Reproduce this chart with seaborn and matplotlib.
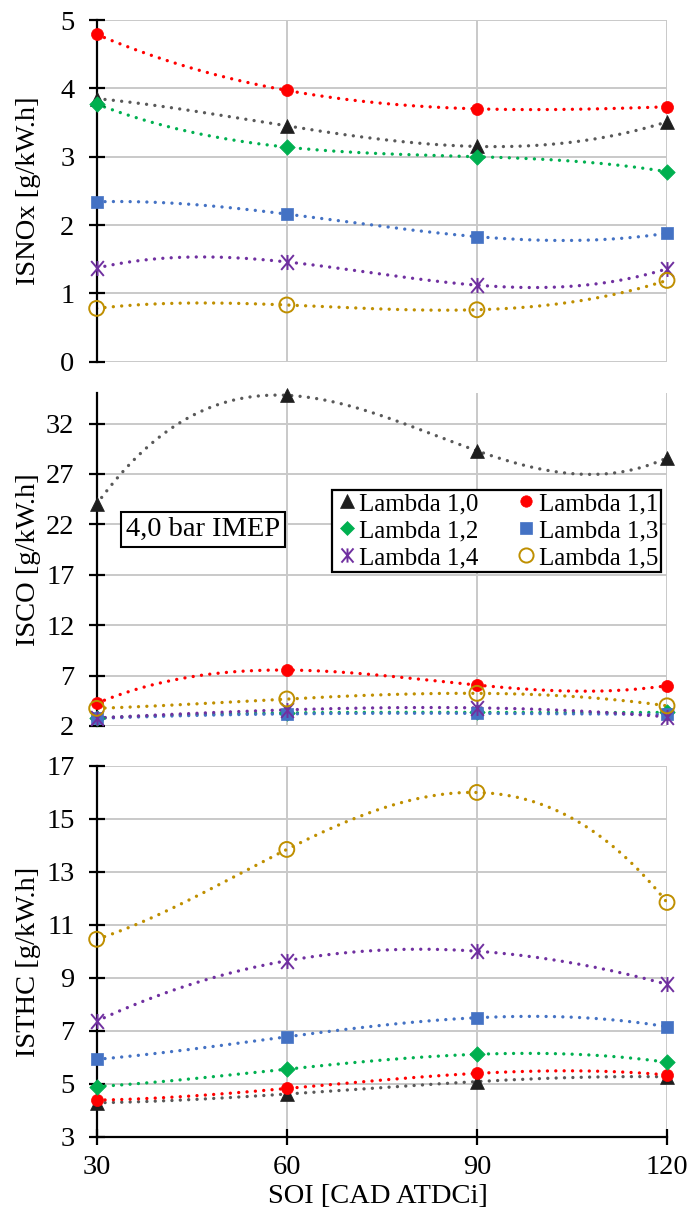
import numpy as np
import matplotlib
matplotlib.use("Agg")
import matplotlib.pyplot as plt
import seaborn as sns
from matplotlib.path import Path
from matplotlib.lines import Line2D

# Start of injection [CAD ATDCi]
soi = [30, 60, 90, 120]
labels = ["Lambda 1,0", "Lambda 1,1", "Lambda 1,2", "Lambda 1,3", "Lambda 1,4", "Lambda 1,5"]

# Indicated specific NOx [g/kW.h]
isnox_l10 = [3.85, 3.45, 3.15, 3.51]
isnox_l11 = [4.79, 3.97, 3.70, 3.73]
isnox_l12 = [3.77, 3.14, 3.00, 2.78]
isnox_l13 = [2.34, 2.16, 1.83, 1.88]
isnox_l14 = [1.37, 1.46, 1.12, 1.36]
isnox_l15 = [0.78, 0.83, 0.76, 1.19]

# Indicated specific CO [g/kW.h]
isco_l10 = [24.0, 34.8, 29.3, 28.6]
isco_l11 = [4.25, 7.55, 6.06, 6.0]
isco_l12 = [2.8, 3.3, 3.35, 3.35]
isco_l13 = [2.75, 3.2, 3.25, 3.15]
isco_l14 = [2.8, 3.6, 3.8, 2.9]
isco_l15 = [3.75, 4.68, 5.24, 4.0]

# Indicated specific THC [g/kW.h]
isthc_l10 = [4.28, 4.61, 5.08, 5.26]
isthc_l11 = [4.38, 4.82, 5.39, 5.33]
isthc_l12 = [4.89, 5.55, 6.11, 5.81]
isthc_l13 = [5.92, 6.77, 7.49, 7.15]
isthc_l14 = [7.36, 9.64, 10.00, 8.75]
isthc_l15 = [10.45, 13.84, 15.99, 11.84]

panels = [
    ("ISNOx [g/kW.h]", [isnox_l10, isnox_l11, isnox_l12, isnox_l13, isnox_l14, isnox_l15],
     (0, 5), np.arange(0, 6, 1)),
    ("ISCO [g/kW.h]", [isco_l10, isco_l11, isco_l12, isco_l13, isco_l14, isco_l15],
     (2, 35), np.arange(2, 33, 5)),
    ("ISTHC [g/kW.h]", [isthc_l10, isthc_l11, isthc_l12, isthc_l13, isthc_l14, isthc_l15],
     (3, 17), np.arange(3, 18, 2)),
]

sns.set_theme(style="white")
plt.rcParams["font.family"] = ["Liberation Serif", "DejaVu Serif"]

# asterisk marker: an X crossed by a vertical bar
asterisk = Path(
    [(0, -1), (0, 1), (-0.85, -1), (0.85, 1), (-0.85, 1), (0.85, -1)],
    [Path.MOVETO, Path.LINETO, Path.MOVETO, Path.LINETO, Path.MOVETO, Path.LINETO],
)

# marker, marker colour, trend-line colour, scatter size, filled, edge width
styles = [
    ("^", "#1e1e1e", "#595959", 100, True, 0.5),
    ("o", "#ff0000", "#ff0000", 75, True, 0.5),
    ("D", "#00b050", "#00b050", 62, True, 0.5),
    ("s", "#4472c4", "#4472c4", 80, True, 0.5),
    (asterisk, "#7030a0", "#7030a0", 115, True, 1.4),
    ("o", "#bf8f00", "#bf8f00", 115, False, 1.4),
]

fig = plt.figure(figsize=(6.91, 12.11), dpi=100)
left, width = 0.1399, 0.8254
boxes = [
    (0.70132, 0.28216),
    (0.40050, 0.27473),
    (0.06135, 0.30637),
]

fs = 20.5
grid_color = "#c9c9c9"
dotted = (0, (0.01, 2.5))
axes = []
for i, ((ylabel, series, ylim, yticks), (bottom, height)) in enumerate(zip(panels, boxes)):
    ax = fig.add_axes([left, bottom, width, height])
    axes.append(ax)
    xs = np.linspace(soi[0], soi[-1], 300)
    # third-order polynomial trend lines
    for vals, (m, mc, lc, s, filled, ew) in zip(series, styles):
        coef = np.polyfit(soi, vals, 3)
        sns.lineplot(x=xs, y=np.polyval(coef, xs), ax=ax, color=lc, linewidth=2.4,
                     linestyle=dotted, dash_capstyle="round", estimator=None,
                     sort=False, zorder=2)
    for vals, (m, mc, lc, s, filled, ew) in zip(series, styles):
        if filled:
            sns.scatterplot(x=soi, y=vals, ax=ax, marker=m, color=mc, edgecolor=mc,
                            linewidth=ew, s=s, zorder=3, clip_on=False)
        else:
            sns.scatterplot(x=soi, y=vals, ax=ax, marker=m, color="none", edgecolor=mc,
                            linewidth=ew, s=s, zorder=3, clip_on=False)

    ax.set_xlim(30, 120)
    ax.set_ylim(*ylim)
    ax.set_xticks(soi)
    ax.set_yticks(yticks)
    ax.set_axisbelow(True)
    ax.grid(True, color=grid_color, linewidth=1.4)
    for side in ("top", "right"):
        ax.spines[side].set_visible(False)
    ax.spines["left"].set_color("black")
    ax.spines["left"].set_linewidth(1.6)
    ax.tick_params(axis="y", left=True, direction="inout", length=12, width=1.6,
                   color="black", labelsize=fs, pad=10, labelcolor="black")
    if i < 2:
        ax.spines["bottom"].set_visible(False)
        ax.tick_params(axis="x", bottom=False, labelbottom=False)
    else:
        ax.spines["bottom"].set_color("black")
        ax.spines["bottom"].set_linewidth(1.6)
        ax.tick_params(axis="x", bottom=True, direction="inout", length=12, width=1.6,
                       color="black", labelsize=fs, pad=7, labelcolor="black")
    ax.set_ylabel(ylabel, fontsize=fs, color="black", va="center")
    ax.yaxis.set_label_coords(-0.12, 0.471 if i == 2 else 0.5)
    ax.set_xlabel("")

axes[2].set_xlabel("SOI [CAD ATDCi]", fontsize=fs, color="black", va="bottom")
axes[2].xaxis.set_label_coords(0.493, -0.196)

# legend: markers only, two columns filled row by row
handles = []
for (m, mc, lc, s, filled, ew), lab in zip(styles, labels):
    handles.append(Line2D([], [], linestyle="none", marker=m, markersize=np.sqrt(s) * 0.95,
                          markerfacecolor=mc if filled else "none",
                          markeredgecolor=mc, markeredgewidth=ew, label=lab))
order = [0, 2, 4, 1, 3, 5]
leg = axes[1].legend(
    handles=[handles[k] for k in order], labels=[labels[k] for k in order],
    ncol=2, loc="upper left", bbox_to_anchor=(0.4126, 0.7093), borderaxespad=0,
    fontsize=18, frameon=True, fancybox=False, framealpha=1, edgecolor="black",
    handlelength=1.0, handletextpad=0.0, columnspacing=1.4, labelspacing=0.18,
    borderpad=0.1,
)
leg.get_frame().set_linewidth(1.6)
for t in leg.get_texts():
    t.set_color("black")

axes[1].text(0.186, 0.5906, "4,0 bar IMEP", transform=axes[1].transAxes,
             ha="center", va="center", fontsize=20.5, color="black",
             bbox=dict(boxstyle="square,pad=0.18", facecolor="white",
                       edgecolor="black", linewidth=1.5))

fig.savefig("out.png", dpi=100)
